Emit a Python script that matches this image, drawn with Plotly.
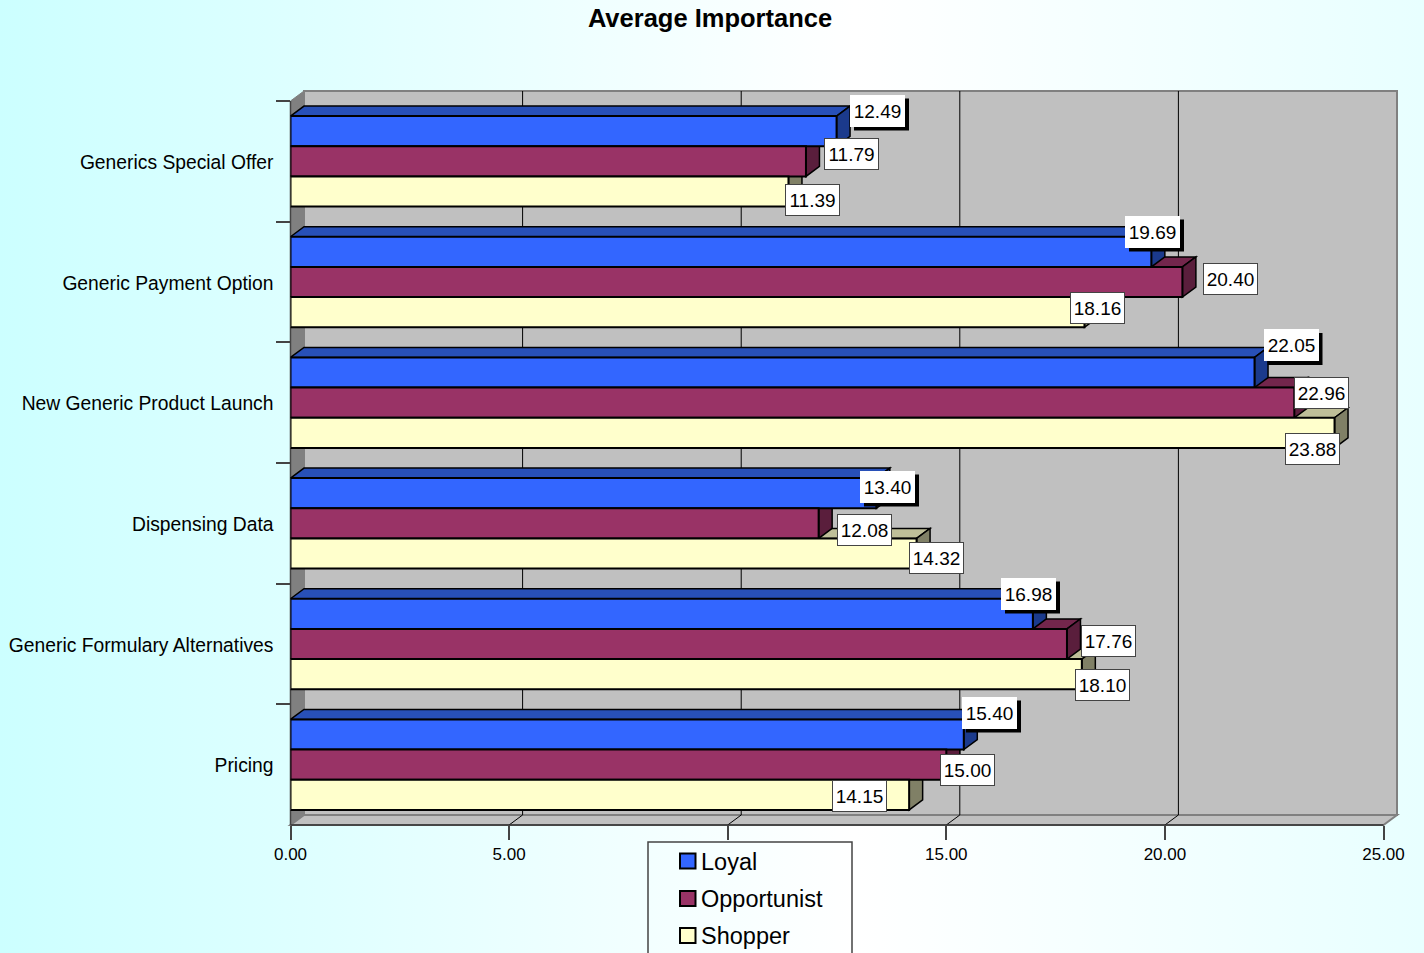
import base64
import plotly.graph_objects as go

# ---- data ----
categories = ["Generics Special Offer", "Generic Payment Option", "New Generic Product Launch",
              "Dispensing Data", "Generic Formulary Alternatives", "Pricing"]
loyal = [12.49, 19.69, 22.05, 13.40, 16.98, 15.40]
opportunist = [11.79, 20.40, 22.96, 12.08, 17.76, 15.00]
shopper = [11.39, 18.16, 23.88, 14.32, 18.10, 14.15]
x_ticks = [0, 5, 10, 15, 20, 25]
# the 10.00 label is hidden by the legend box in the reference
x_tick_labels = ["0.00", "5.00", "", "15.00", "20.00", "25.00"]
series_names = ["Loyal", "Opportunist", "Shopper"]
title_text = "Average Importance"

# ---- style / layout ----
W, H = 1424, 953
X0, X1, YTOP, YBOT = 290.5, 1383.5, 101, 825   # front plot rectangle in page pixels
DX, DY = 13.5, 10                              # 3-D depth offset in pixels
FONT = "Liberation Sans"
front = ["#3366FF", "#993366", "#FFFFCC"]
top = ["#2850B8", "#73264C", "#BFBF99"]
side = ["#1B3A8C", "#5A1E3C", "#808066"]
series = [loyal, opportunist, shopper]

# hand-placed data label centres in page pixels, per series then category
label_cx = [[877.5, 1152.5, 1291, 887.5, 1028.5, 989.5],
            [851.5, 1230.5, 1321.5, 864.5, 1108.5, 967.5],
            [812.5, 1097.5, 1312.5, 936.5, 1102.5, 859.5]]
label_cy = [[110.5, 231.5, 345, 486.5, 593.5, 712.5],
            [154, 279, 393, 530, 641, 770],
            [200, 308, 449, 558, 685, 796]]

def px(v):
    return X0 + (X1 - X0) * v / x_ticks[-1]
def fx(p):
    return p / W
def fy(p):
    return 1 - p / H

dx_u = DX / (X1 - X0) * x_ticks[-1]
band_px = (YBOT - YTOP) / len(categories)
dy_u = DY / band_px
BAR_U = 0.25                                 # each bar is a quarter of a band

def paper_poly(pts, fill, line, lw=1.5):
    path = "M " + " L ".join(f"{fx(a):.5f},{fy(b):.5f}" for a, b in pts) + " Z"
    return dict(type="path", path=path, xref="paper", yref="paper", fillcolor=fill,
                line=dict(color=line, width=lw), layer="below")

shapes = []
# walls and floor
shapes.append(paper_poly([(X0 + DX, YTOP - DY), (X1 + DX, YTOP - DY), (X1 + DX, YBOT - DY), (X0 + DX, YBOT - DY)],
                         "#C0C0C0", "#808080", 2))
shapes.append(paper_poly([(X0, YTOP), (X0 + DX, YTOP - DY), (X0 + DX, YBOT - DY), (X0, YBOT)],
                         "#808080", "#808080", 1))
shapes.append(paper_poly([(X0, YBOT), (X0 + DX, YBOT - DY), (X1 + DX, YBOT - DY), (X1, YBOT)],
                         "#C0C0C0", "#808080", 2))
for v in x_ticks[1:-1]:
    shapes.append(dict(type="path", xref="paper", yref="paper", layer="below",
                       path=f"M {fx(px(v) + DX):.5f},{fy(YTOP - DY):.5f} L {fx(px(v) + DX):.5f},{fy(YBOT - DY):.5f} "
                            f"L {fx(px(v)):.5f},{fy(YBOT):.5f}",
                       line=dict(color="#000000", width=1)))
shapes.append(dict(type="line", xref="paper", yref="paper", layer="below", x0=fx(X0), x1=fx(X1),
                   y0=fy(YBOT), y1=fy(YBOT), line=dict(color="#333333", width=1.5)))
shapes.append(dict(type="line", xref="paper", yref="paper", layer="below", x0=fx(X0), x1=fx(X0),
                   y0=fy(YTOP), y1=fy(YBOT), line=dict(color="#444444", width=1.5)))

# depth faces, computed from the data, painted from the bottom bar up
for c in range(len(categories)):
    for s in [2, 1, 0]:
        v = series[s][c]
        y_t = c - 0.375 + s * BAR_U
        y_b = y_t + BAR_U
        t_path = (f"M 0,{y_t} L {dx_u},{y_t - dy_u} L {v + dx_u},{y_t - dy_u} L {v},{y_t} Z")
        s_path = (f"M {v},{y_t} L {v + dx_u},{y_t - dy_u} L {v + dx_u},{y_b - dy_u} L {v},{y_b} Z")
        shapes.append(dict(type="path", path=t_path, xref="x", yref="y", layer="below",
                           fillcolor=top[s], line=dict(color="#000000", width=1.5)))
        shapes.append(dict(type="path", path=s_path, xref="x", yref="y", layer="below",
                           fillcolor=side[s], line=dict(color="#000000", width=1.5)))

# data label boxes
annotations = []
BW, BH = 55, 32
for s in range(3):
    for c in range(len(categories)):
        cx, cy = label_cx[s][c], label_cy[s][c]
        if s == 0:  # Loyal labels carry a drop shadow and no outline
            shapes.append(dict(type="rect", xref="paper", yref="paper", layer="above",
                               x0=fx(cx - BW / 2 + 4), x1=fx(cx + BW / 2 + 4),
                               y0=fy(cy - BH / 2 + 4), y1=fy(cy + BH / 2 + 4),
                               fillcolor="#000000", line=dict(width=0)))
        annotations.append(dict(xref="paper", yref="paper", x=fx(cx), y=fy(cy), xanchor="center", yanchor="middle",
                                text=f"{series[s][c]:.2f}", showarrow=False, width=BW - 2, height=BH - 2,
                                bgcolor="#FFFFFF", bordercolor="#FFFFFF" if s == 0 else "#444444",
                                borderwidth=1, borderpad=0, font=dict(family=FONT, size=19, color="#000000")))

# legend box, hand drawn to keep the reference's spacing and its cut-off at the page edge
LEG_Y = [861, 898.5, 935.5]
shapes.append(dict(type="rect", xref="paper", yref="paper", layer="above", x0=fx(648), x1=fx(852),
                   y0=fy(842), y1=fy(H + 30), line=dict(color="#444444", width=1.5)))
for i, name in enumerate(series_names):
    shapes.append(dict(type="rect", xref="paper", yref="paper", layer="above", x0=fx(680), x1=fx(695.5),
                       y0=fy(LEG_Y[i] - 7.5), y1=fy(LEG_Y[i] + 7.5), fillcolor=front[i],
                       line=dict(color="#000000", width=2)))
    annotations.append(dict(xref="paper", yref="paper", x=fx(699), y=fy(LEG_Y[i] + 0.5), xanchor="left", yanchor="middle",
                            text=name, showarrow=False, font=dict(family=FONT, size=23.5, color="#000000")))

fig = go.Figure()
for s in range(3):
    fig.add_trace(go.Bar(name=series_names[s], y=categories, x=series[s], orientation="h",
                         marker=dict(color=front[s], line=dict(color="#000000", width=2)),
                         hoverinfo="x+y"))

svg = (f'<svg xmlns="http://www.w3.org/2000/svg" width="{W}" height="{H}" preserveAspectRatio="none">'
       '<defs><linearGradient id="g" x1="0" x2="1" y1="0" y2="0">'
       '<stop offset="0" stop-color="#CCFFFF"/><stop offset="0.6" stop-color="#FFFFFF"/>'
       '<stop offset="1" stop-color="#E8FFFF"/></linearGradient></defs>'
       f'<rect width="{W}" height="{H}" fill="url(#g)"/></svg>')
bg = "data:image/svg+xml;base64," + base64.b64encode(svg.encode()).decode()

fig.update_layout(
    width=W, height=H, margin=dict(l=0, r=0, t=0, b=0, autoexpand=False), autosize=False,
    paper_bgcolor="#FFFFFF", plot_bgcolor="rgba(0,0,0,0)",
    barmode="group", bargap=0.25, bargroupgap=0, showlegend=False,
    font=dict(family=FONT, color="#000000"),
    title=dict(text=f"<b>{title_text}</b>", x=710 / W, xref="paper", xanchor="center", y=fy(18), yref="paper",
               yanchor="middle", font=dict(family=FONT, size=25.5, color="#000000")),
    xaxis=dict(domain=[fx(X0), fx(X1)], range=[x_ticks[0], x_ticks[-1]], tickmode="array", tickvals=x_ticks,
               ticktext=x_tick_labels, ticks="outside", ticklen=14, tickwidth=1.5, tickcolor="#444444",
               tickfont=dict(size=17, family=FONT), showgrid=False, zeroline=False, showline=False,
               automargin=False),
    yaxis=dict(domain=[fy(YBOT), fy(YTOP)], type="category", categoryorder="array", categoryarray=categories,
               range=[len(categories) - 0.5, -0.5], tickson="boundaries", ticks="outside", ticklen=14,
               tickwidth=1.5, tickcolor="#444444", tickfont=dict(size=19.3, family=FONT), showgrid=False,
               zeroline=False, showline=False, automargin=False, ticklabelstandoff=16, ticklabelshift=-1),
    shapes=shapes, annotations=annotations,
    images=[dict(source=bg, xref="paper", yref="paper", x=0, y=1, sizex=1, sizey=1, sizing="stretch",
                 xanchor="left", yanchor="top", layer="below")],
)
fig.write_html("out.html", config={"displayModeBar": False},
               post_script="document.body.style.margin='0';document.body.style.overflow='hidden';")
